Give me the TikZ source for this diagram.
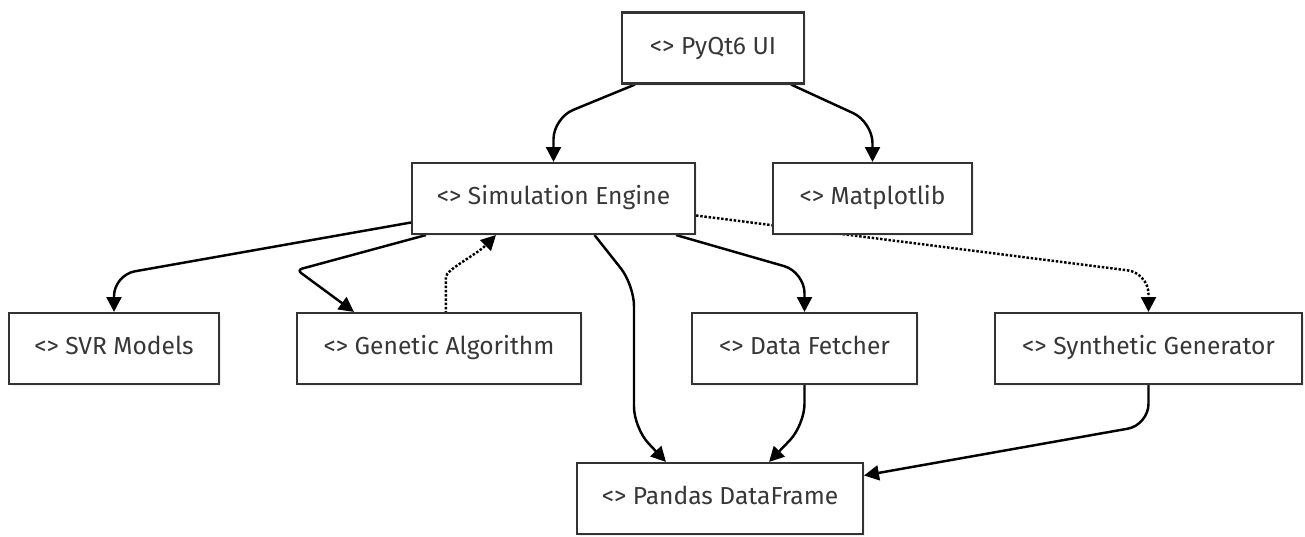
\documentclass[tikz,border=0pt]{standalone}
\usepackage{fontspec}
\setmainfont{Fira Sans}
\usepackage{tikz}
\usetikzlibrary{positioning}
\usetikzlibrary{calc}
\usetikzlibrary{arrows.meta}
\usetikzlibrary{backgrounds}
\usetikzlibrary{shadows}
\definecolor{boxline}{RGB}{51,51,51}
\definecolor{boxtext}{RGB}{55,55,55}

\tikzset{
    block/.style={draw=boxline, line width=1.2pt, fill=white, text=boxtext,
        minimum height=1.42cm, inner sep=0pt, text height=10pt, text depth=3pt,
        font=\fontsize{14}{16}\selectfont,
        drop shadow={shadow xshift=1.2pt, shadow yshift=-1.2pt, opacity=0.12}},
    link/.style={line width=1.4pt, rounded corners=12pt,
        -{Triangle[length=8.5pt,width=8.5pt]}},
    weak/.style={link, densely dotted}
}

\begin{document}
\begin{tikzpicture}[x=0.02cm, y=-0.02cm]
    \useasboundingbox (0,0) rectangle (1305,537);

    % components
    \node[block, minimum width=3.64cm] (ui)  at (713,48)    {<> PyQt6 UI};
    \node[block, minimum width=5.66cm] (sim) at (553.5,198.5) {<> Simulation Engine};
    \node[block, minimum width=3.98cm] (mat) at (872.5,198.5) {<> Matplotlib};
    \node[block, minimum width=4.2cm]  (svr) at (114,348.5) {<> SVR Models};
    \node[block, minimum width=5.68cm] (ga)  at (439,348.5) {<> Genetic Algorithm};
    \node[block, minimum width=4.5cm]  (df)  at (804.5,348.5) {<> Data Fetcher};
    \node[block, minimum width=6.14cm] (sg)  at (1148.5,348.5) {<> Synthetic Generator};
    \node[block, minimum width=5.72cm] (pd)  at (720,498.5) {<> Pandas DataFrame};

    \begin{scope}[on background layer]
        % from the UI
        \draw[link] ($(ui.south west)+(14,0)$) -- (sim.north |- 0,118) -- (sim.north);
        \draw[link] ($(ui.south east)+(-14,0)$) -- (mat.north |- 0,122) -- (mat.north);

        % from the engine
        \draw[link] ($(sim.west)+(0,24)$) -- (svr.north |- 0,275) -- (svr.north);
        \draw[link, rounded corners=3pt] ($(sim.south west)+(15,0)$) -- (297,270)
            -- ($(ga.north west)+(58,0)$);
        \draw[weak] ($(ga.north west)+(150,0)$) -- ++(0,-14)
            to[out=90, in=-135, looseness=0.9] ($(sim.south west)+(85,0)$);
        \draw[link] ($(sim.south)+(41,0)$) -- (634,285) -- (634,428)
            -- ($(pd.north west)+(90,0)$);
        \draw[link] ($(sim.south east)+(-20,0)$) -- (df.north |- 0,272) -- (df.north);
        \draw[weak] ($(sim.east)+(0,17)$) -- (sg.north |- 0,273) -- (sg.north);

        % into the data frame
        \draw[link] (df.south) -- (df.south |- 0,425) -- ($(pd.north east)+(-95,0)$);
        \draw[link] (sg.south) -- (sg.south |- 0,425) -- ($(pd.east)+(0,-23)$);
    \end{scope}
\end{tikzpicture}
\end{document}
